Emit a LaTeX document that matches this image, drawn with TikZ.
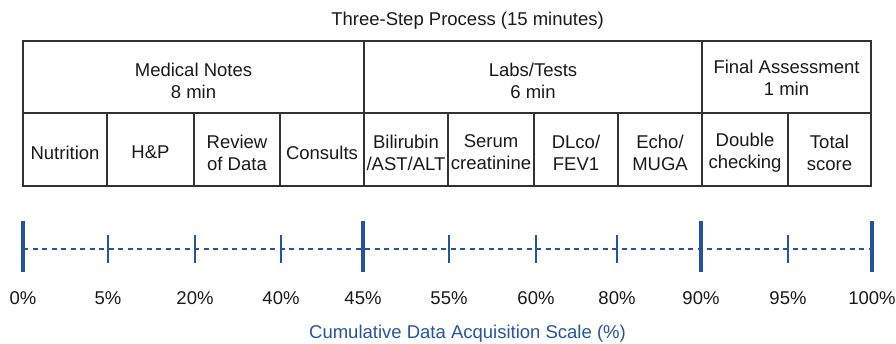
\documentclass[tikz,border=0pt]{standalone}
\usepackage{fontspec}
\setmainfont{Liberation Sans}
\definecolor{scaleblue}{RGB}{36,84,160}
\definecolor{gridgray}{RGB}{50,50,50}
\definecolor{txt}{RGB}{25,25,25}
\tikzset{
  cell/.style={draw=gridgray, line width=1.4pt, rectangle, inner sep=0pt},
  lowcell/.style={cell, minimum height=73pt, anchor=center},
  highcell/.style={cell, minimum height=72pt, anchor=center},
  celltext/.style={inner sep=0pt, align=center, text=txt, font=\fontsize{18.5}{22}\selectfont},
  lowtext/.style={celltext, yshift=-3pt},
  hightext/.style={celltext, yshift=-3.5pt},
  majortick/.style={draw=scaleblue, line width=3.2pt},
  minortick/.style={draw=scaleblue, line width=2.9pt},
  scaleline/.style={draw=scaleblue, line width=2.4pt, dash pattern=on 5pt off 4.5pt},
  pct/.style={text=txt, font=\fontsize{18.5}{22}\selectfont, inner sep=0pt},
  title/.style={text=txt, font=\fontsize{18.5}{22}\selectfont, inner sep=0pt},
}
\begin{document}
\begin{tikzpicture}[x=1pt,y=-1pt]
\useasboundingbox (0,0) rectangle (896,344);
% title
\node[title] (ttl) at (467.5,21) {Three-Step Process (15 minutes)};
% top row
\node[highcell, minimum width=341pt, label={[hightext]center:Medical Notes\\8 min}] (med) at (193.5,77) {};
\node[highcell, minimum width=338pt, label={[hightext]center:Labs/Tests\\6 min}] (labs) at (533,77) {};
\node[highcell, minimum width=169pt, label={[celltext, yshift=-0.5pt]center:Final Assessment\\1 min}] (fin) at (786.5,77) {};
% bottom row
\node[lowcell, minimum width=84pt, label={[lowtext]center:Nutrition}] (c1) at (65,149.5) {};
\node[lowcell, minimum width=87pt, label={[lowtext]center:H\&P}] (c2) at (150.5,149.5) {};
\node[lowcell, minimum width=86pt, label={[lowtext]center:Review\\of Data}] (c3) at (237,149.5) {};
\node[lowcell, minimum width=84pt, label={[lowtext]center:Consults}] (c4) at (322,149.5) {};
\node[lowcell, minimum width=84pt, label={[lowtext]center:Bilirubin\\/AST/ALT}] (c5) at (406,149.5) {};
\node[lowcell, minimum width=86pt, label={[lowtext]center:Serum\\creatinine}] (c6) at (491,149.5) {};
\node[lowcell, minimum width=84pt, label={[lowtext]center:DLco/\\FEV1}] (c7) at (576,149.5) {};
\node[lowcell, minimum width=84pt, label={[lowtext]center:Echo/\\MUGA}] (c8) at (660,149.5) {};
\node[lowcell, minimum width=86pt, label={[lowtext]center:Double\\checking}] (c9) at (745,149.5) {};
\node[lowcell, minimum width=83pt, label={[lowtext]center:Total\\score}] (c10) at (829.5,149.5) {};
% scale
\coordinate (s0) at (23,249);
\coordinate (s10) at (872,249);
\draw[scaleline] (s0) -- (s10);
\foreach \x/\lab in {23/0\%, 108/5\%, 195/20\%, 281/40\%, 363/45\%,
  449/55\%, 536/60\%, 617/80\%, 701/90\%, 788/95\%, 872/100\%}{
  \coordinate (tk\x) at (\x,249);
  \node[pct] (lb\x) at (\x,298.5) {\lab};
}
\foreach \x in {23,363,701,872}{
  \draw[majortick] ([yshift=-23pt]tk\x) -- ([yshift=28pt]tk\x);
}
\foreach \x in {108,195,281,449,536,617,788}{
  \draw[minortick] ([yshift=-14pt]tk\x) -- ([yshift=14pt]tk\x);
}
\node[title, text=scaleblue] (axt) at (467.5,334) {Cumulative Data Acquisition Scale (\%)};
\end{tikzpicture}
\end{document}
